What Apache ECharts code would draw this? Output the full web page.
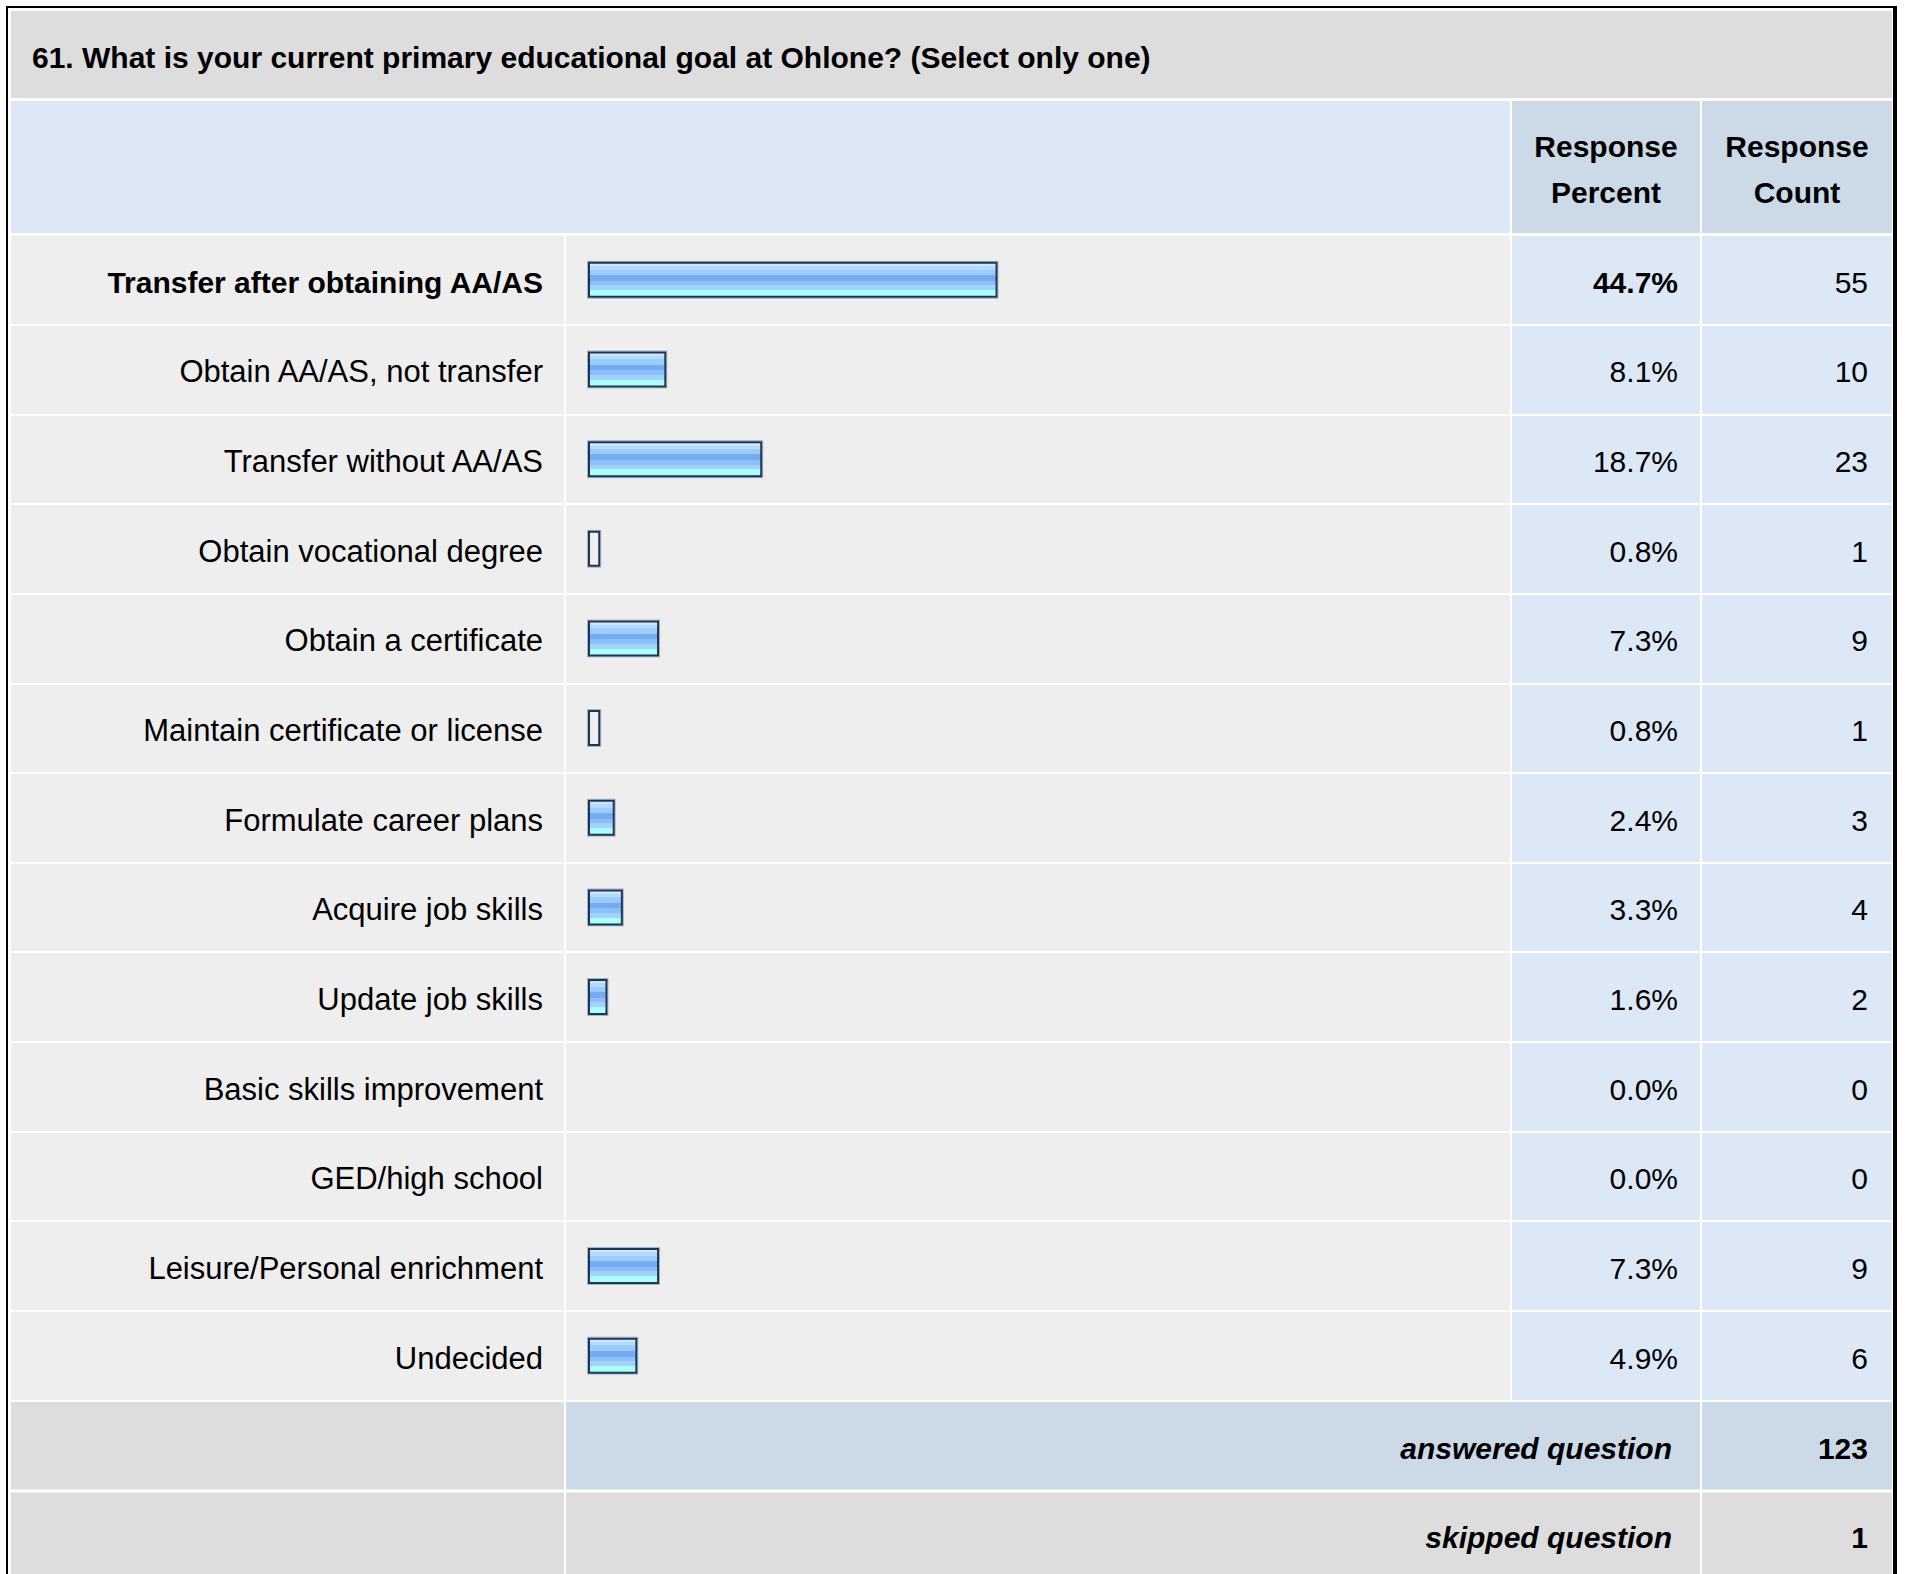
<!DOCTYPE html>
<html><head><meta charset="utf-8">
<script src="https://cdn.jsdelivr.net/npm/echarts@6/dist/echarts.min.js"></script>
<style>html,body{margin:0;padding:0;background:#fff}#c{width:1913px;height:1574px}</style>
</head><body><div id="c"></div>
<script>
// ---- data ----
const titleText = '61. What is your current primary educational goal at Ohlone? (Select only one)';
const categories = [
  'Transfer after obtaining AA/AS',
  'Obtain AA/AS, not transfer',
  'Transfer without AA/AS',
  'Obtain vocational degree',
  'Obtain a certificate',
  'Maintain certificate or license',
  'Formulate career plans',
  'Acquire job skills',
  'Update job skills',
  'Basic skills improvement',
  'GED/high school',
  'Leisure/Personal enrichment',
  'Undecided'
];
const percents = [44.7, 8.1, 18.7, 0.8, 7.3, 0.8, 2.4, 3.3, 1.6, 0.0, 0.0, 7.3, 4.9];
const counts = [55, 10, 23, 1, 9, 1, 3, 4, 2, 0, 0, 9, 6];
const headerPercent = 'Response\nPercent';
const headerCount = 'Response\nCount';
const answeredLabel = 'answered question';
const answeredCount = 123;
const skippedLabel = 'skipped question';
const skippedCount = 1;
const boldRow = 0;

// ---- layout / style ----
const FONT = '"Liberation Sans", Arial, Helvetica, sans-serif';
const L = 11, R = 1892;
const colLabelR = 564, colBarL = 566, colBarR = 1510, colPctL = 1512, colPctR = 1700, colCntL = 1702;
const gridTop = 235, rowH = 89.65, nRows = categories.length;
const gridBot = gridTop + rowH * nRows;
const pxPerPct = 9.05, zeroX = 588;
const labelRight = 543, pctRight = 1678, cntRight = 1868;

const chart = echarts.init(document.getElementById('c'), null, {renderer: 'svg', width: 1913, height: 1574});

const barFill = new echarts.graphic.LinearGradient(0, 0, 0, 1, [
  {offset: 0, color: '#cde7ff'}, {offset: 0.1, color: '#cde7ff'},
  {offset: 0.1, color: '#b2dbff'}, {offset: 0.2, color: '#b2dbff'},
  {offset: 0.2, color: '#99ccff'}, {offset: 0.36, color: '#99ccff'},
  {offset: 0.36, color: '#77aaee'}, {offset: 0.53, color: '#77aaee'},
  {offset: 0.53, color: '#8bbff9'}, {offset: 0.66, color: '#8bbff9'},
  {offset: 0.66, color: '#a2d3ff'}, {offset: 0.8, color: '#a2d3ff'},
  {offset: 0.8, color: '#aaffff'}, {offset: 1, color: '#aaffff'}
]);

function rect(x, y, w, h, fill) {
  return {type: 'rect', z: 0, silent: true, shape: {x: x, y: y, width: w, height: h}, style: {fill: fill}};
}
function txt(s, x, y, align, font, lh) {
  return {type: 'text', z: 10, silent: true,
    style: {text: s, x: x, y: y, align: align, textAlign: align, verticalAlign: 'middle', textVerticalAlign: 'middle',
      font: font, fill: '#000', lineHeight: lh || 36}};
}

const ansTop = gridBot + 1.5, ansH = 87.5;
const skTop = ansTop + ansH + 3, skH = 90;

const graphics = [
  {type: 'rect', z: 0, silent: true, shape: {x: 7, y: 7, width: 1887, height: 1620}, style: {fill: 'none', stroke: '#000', lineWidth: 2}},
  {type: 'line', z: 0, silent: true, shape: {x1: 1896, y1: 6, x2: 1896, y2: 1574}, style: {stroke: '#000', lineWidth: 2}},
  rect(L, 11, R - L, 87, '#dddddd'),
  rect(L, 101, colBarR - L, 132, '#dce8f5'),
  rect(colPctL, 101, colPctR - colPctL, 132, '#ccd9e6'),
  rect(colCntL, 101, R - colCntL, 132, '#ccd9e6'),
  rect(L, gridTop, colLabelR - L, gridBot - gridTop, '#eeeeee'),
  rect(colBarL, gridTop, colBarR - colBarL, gridBot - gridTop, '#eeeeee'),
  rect(colPctL, gridTop, colPctR - colPctL, gridBot - gridTop, '#dce8f5'),
  rect(colCntL, gridTop, R - colCntL, gridBot - gridTop, '#dce8f5'),
  rect(L, ansTop, colLabelR - L, ansH, '#dddddd'),
  rect(colBarL, ansTop, colPctR - colBarL, ansH, '#ccd9e6'),
  rect(colCntL, ansTop, R - colCntL, ansH, '#ccd9e6'),
  rect(L, skTop, colLabelR - L, skH, '#dddddd'),
  rect(colBarL, skTop, colPctR - colBarL, skH, '#dddddd'),
  rect(colCntL, skTop, R - colCntL, skH, '#dddddd'),
  txt(headerPercent, (colPctL + colPctR) / 2, 169, 'center', 'bold 30px ' + FONT, 46),
  txt(headerCount, (colCntL + R) / 2, 169, 'center', 'bold 30px ' + FONT, 46),
  txt(answeredLabel, 1672, ansTop + ansH / 2 + 2.5, 'right', 'italic bold 30px ' + FONT),
  txt(String(answeredCount), cntRight, ansTop + ansH / 2 + 2.5, 'right', 'bold 30px ' + FONT),
  txt(skippedLabel, 1672, skTop + 45, 'right', 'italic bold 30px ' + FONT),
  txt(String(skippedCount), cntRight, skTop + 45, 'right', 'bold 30px ' + FONT)
];

const labelShift = {verticalAlign: 'top', lineHeight: 5};

function catAxis(data, anchorX, showSplit, fs) {
  return {
    type: 'category', inverse: true, position: 'left', offset: L - anchorX, z: 5,
    data: data,
    axisLine: {show: false}, axisTick: {show: false},
    axisLabel: Object.assign({show: true, interval: 0, margin: 0, fontSize: fs, color: '#000', fontFamily: FONT}, labelShift),
    splitLine: {show: showSplit, interval: 0, lineStyle: {color: '#ffffff', width: 2}}
  };
}

const boldStyle = (fs) => Object.assign({fontWeight: 'bold', fontSize: fs, color: '#000', fontFamily: FONT}, labelShift);
const catData = categories.map((c, i) => i === boldRow ? {value: c, textStyle: boldStyle(30)} : c);
const pctData = percents.map((p, i) => i === boldRow ? {value: p.toFixed(1) + '%', textStyle: boldStyle(30)} : p.toFixed(1) + '%');
const cntData = counts.map(c => String(c));

chart.setOption({
  animation: false,
  backgroundColor: '#ffffff',
  title: {text: titleText, left: 32, top: 42, padding: 0, z: 10,
    textStyle: {fontSize: 30, fontWeight: 'bold', color: '#000', fontFamily: FONT, lineHeight: 30}},
  graphic: {elements: graphics},
  grid: {left: L, top: gridTop, width: R - L, height: gridBot - gridTop, containLabel: false},
  xAxis: {type: 'value', min: (L - zeroX) / pxPerPct, max: (R - zeroX) / pxPerPct, show: false},
  yAxis: [
    catAxis(catData, labelRight, true, 31),
    catAxis(pctData, pctRight, false, 30),
    catAxis(cntData, cntRight, false, 30)
  ],
  series: [{
    type: 'custom', z: 6, clip: false,
    xAxisIndex: 0, yAxisIndex: 0,
    encode: {x: 0, y: 1},
    data: percents.map((p, i) => [p, i]),
    renderItem: function (params, api) {
      const v = api.value(0);
      if (!(v > 0)) return null;
      const idx = api.value(1);
      const c0 = api.coord([0, idx]);
      const c1 = api.coord([v, idx]);
      const w = c1[0] - c0[0] + 5;
      const h = 36;
      const x = c0[0], y = c0[1] - h / 2;
      return {type: 'group', children: [
        {type: 'rect', shape: {x: x - 0.5, y: y - 0.5, width: w + 1, height: h + 1},
          style: {fill: 'none', stroke: 'rgba(70,90,120,0.4)', lineWidth: 1}},
        {type: 'rect', shape: {x: x + 1, y: y + 1, width: w - 2, height: h - 2},
          style: {fill: v < 1 ? 'none' : barFill, stroke: '#1d3658', lineWidth: 2}}
      ]};
    }
  }]
});
</script></body></html>
